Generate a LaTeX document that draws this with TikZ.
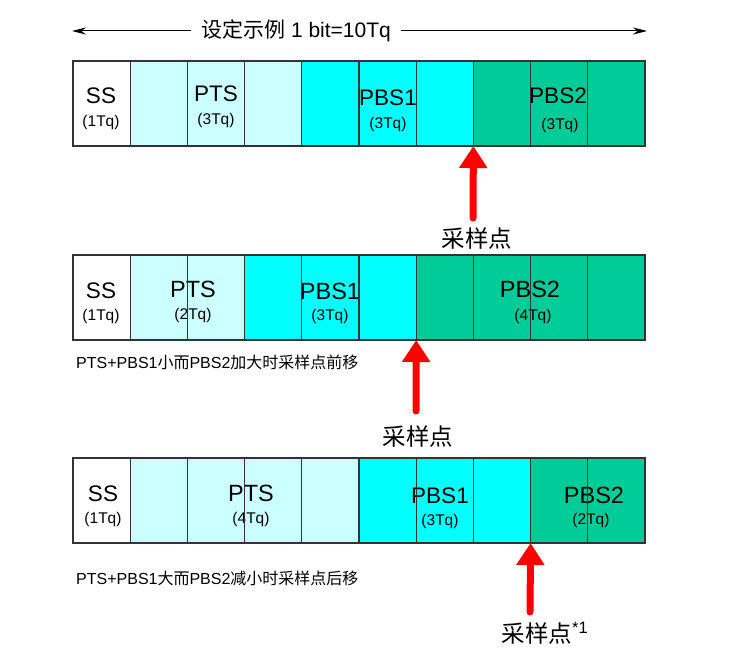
\documentclass[tikz,border=0pt]{standalone}
\usepackage{fontspec}
\setmainfont{Liberation Sans}
\newfontfamily\cjk{Noto Sans CJK SC}
\usetikzlibrary{arrows.meta}
\definecolor{cW}{HTML}{FFFFFF}
\definecolor{cL}{HTML}{CCFFFF}
\definecolor{cC}{HTML}{00FFFF}
\definecolor{cG}{HTML}{00CC99}
\definecolor{edge}{HTML}{333333}
\tikzset{
  cellfill/.style={minimum width=57.2pt,minimum height=85pt,inner sep=0pt,outer sep=0pt,fill=#1},
  cellline/.style={draw=edge,line width=1.3pt},
  biglab/.style={font=\fontsize{22.5}{24}\selectfont,inner sep=0pt},
  bigerlab/.style={font=\fontsize{23.5}{25}\selectfont,inner sep=0pt},
  tqlab/.style={font=\fontsize{15.5}{17}\selectfont,inner sep=0pt},
  caption/.style={font=\fontsize{16}{18}\selectfont,anchor=west,inner sep=0pt},
  samplab/.style={font=\fontsize{23.5}{25}\selectfont\cjk,inner sep=0pt},
  samparrow/.style={draw=red,line width=7pt,line cap=round,-{Triangle[length=22pt,width=27pt]}},
  dimline/.style={draw=black,line width=1pt,-{Stealth[length=14pt,width=7pt]}},
}
\begin{document}
\begin{tikzpicture}[x=1pt,y=-1pt]
\useasboundingbox (0,0) rectangle (756,669);
% title
\node[font=\fontsize{21}{24}\selectfont,inner sep=0pt] (title) at (296,31) {{\cjk 设定示例} 1 bit=10Tq};
\coordinate (tl) at (72,31);
\coordinate (tr) at (647,31);
\draw[dimline,shorten <=10pt] (title.west) -- (tl);
\draw[dimline,shorten <=10pt] (title.east) -- (tr);
% cells fill
\foreach \r/\top/\cols in {1/61/{cW,cL,cL,cL,cC,cC,cC,cG,cG,cG},
                           2/255/{cW,cL,cL,cC,cC,cC,cG,cG,cG,cG},
                           3/458/{cW,cL,cL,cL,cL,cC,cC,cC,cG,cG}}{
  \foreach \c [count=\i] in \cols {
    \node[cellfill=\c] (r\r c\i) at ({73+(\i-0.5)*57.2},{\top+42.5}) {};
  }
}
% row 1 labels
\node[biglab] (r1ss) at (101,96) {SS};
\node[tqlab] (r1sst) at (101,122) {(1Tq)};
\node[biglab] (r1pts) at (216,94) {PTS};
\node[tqlab] (r1ptst) at (216,120) {(3Tq)};
\node[biglab] (r1pb1) at (388,98) {PBS1};
\node[tqlab] (r1pb1t) at (388,124) {(3Tq)};
\node[biglab] (r1pb2) at (558,96) {PBS2};
\node[tqlab] (r1pb2t) at (560,125) {(3Tq)};
% row 2 labels
\node[biglab] (r2ss) at (101,291) {SS};
\node[tqlab] (r2sst) at (101,316) {(1Tq)};
\node[bigerlab] (r2pts) at (193,289) {PTS};
\node[tqlab] (r2ptst) at (193,315) {(2Tq)};
\node[bigerlab] (r2pb1) at (330,291) {PBS1};
\node[tqlab] (r2pb1t) at (330,316) {(3Tq)};
\node[bigerlab] (r2pb2) at (530,289) {PBS2};
\node[tqlab] (r2pb2t) at (533,316) {(4Tq)};
% row 3 labels
\node[biglab] (r3ss) at (103,494) {SS};
\node[tqlab] (r3sst) at (103,519) {(1Tq)};
\node[bigerlab] (r3pts) at (251,493) {PTS};
\node[tqlab] (r3ptst) at (251,519) {(4Tq)};
\node[biglab] (r3pb1) at (440,496) {PBS1};
\node[tqlab] (r3pb1t) at (440,521) {(3Tq)};
\node[bigerlab] (r3pb2) at (594,495) {PBS2};
\node[tqlab] (r3pb2t) at (591,520) {(2Tq)};
% cell borders on top
\foreach \r in {1,2,3}{
  \foreach \i in {1,...,10}{
    \draw[cellline] (r\r c\i.north west) rectangle (r\r c\i.south east);
  }
}
% captions
\node[caption] (cap2) at (76,362) {PTS+PBS1{\cjk 小而}PBS2{\cjk 加大时采样点前移}};
\node[caption] (cap3) at (76,578) {PTS+PBS1{\cjk 大而}PBS2{\cjk 减小时采样点后移}};
% sampling points
\node[samplab] (sp1) at (477,239) {采样点};
\node[samplab] (sp2) at (418,437) {采样点};
\node[samplab] (sp3) at (545,633) {采样点\textsuperscript{\fontspec{Liberation Sans}*1}};
\coordinate (a1) at (473,218);
\coordinate (a2) at (416,411);
\coordinate (a3) at (530,612);
\draw[samparrow] (a1) -- (r1c7.south east);
\draw[samparrow] (a2) -- (r2c6.south east);
\draw[samparrow] (a3) -- (r3c8.south east);
\end{tikzpicture}
\end{document}
